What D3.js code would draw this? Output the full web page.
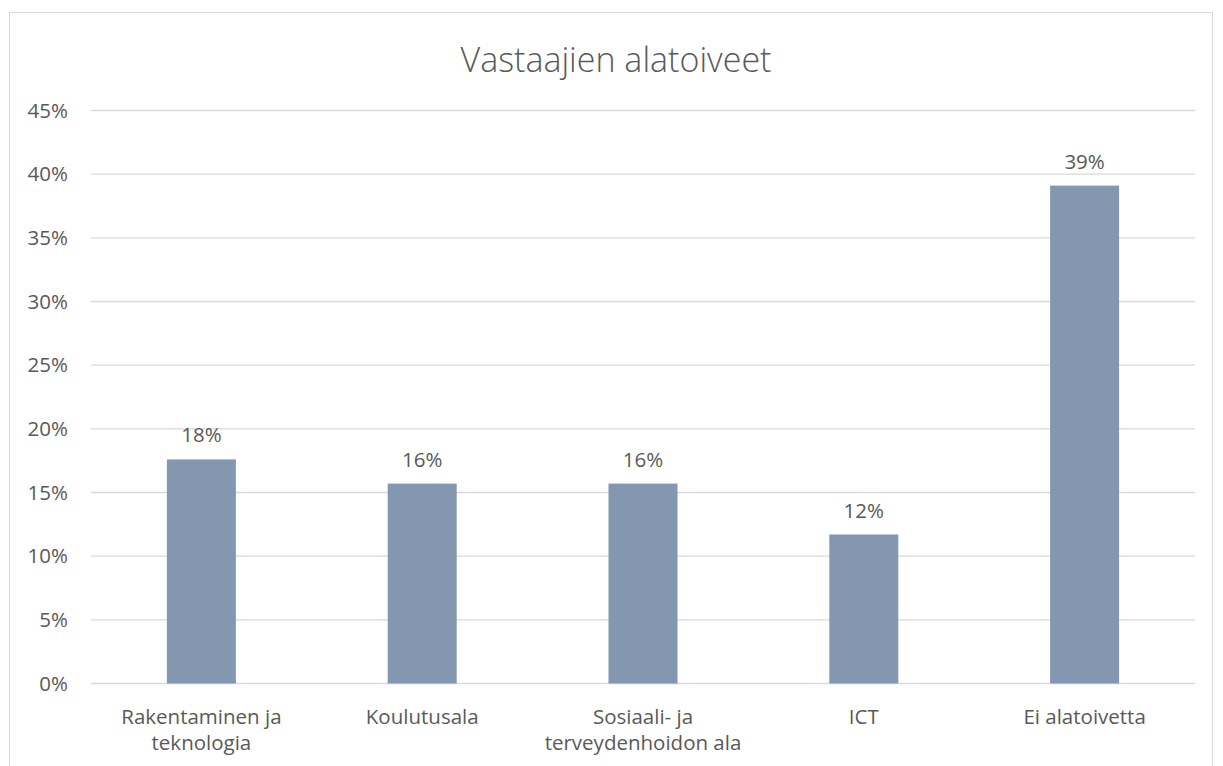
<!DOCTYPE html>
<html>
<head>
<meta charset="utf-8">
<script src="https://cdn.jsdelivr.net/npm/d3@7"></script>
<style>
  html, body { margin: 0; padding: 0; background: #fff; }
  svg text { font-family: "Open Sans", Lato, sans-serif; fill: #595959; }
</style>
</head>
<body>
<div id="vis"></div>
<script>
// data
var categories = [
  ["Rakentaminen ja", "teknologia"],
  ["Koulutusala"],
  ["Sosiaali- ja", "terveydenhoidon ala"],
  ["ICT"],
  ["Ei alatoivetta"]
];
var values = [0.176, 0.157, 0.157, 0.117, 0.391];
var valueLabels = ["18%", "16%", "16%", "12%", "39%"];
var yTicks = [0, 0.05, 0.10, 0.15, 0.20, 0.25, 0.30, 0.35, 0.40, 0.45];
var title = "Vastaajien alatoiveet";

var width = 1223, height = 766;
var plot = {left: 91, right: 1195, top: 110.5, bottom: 683.5};
var fontSize = "20.5px";

var svg = d3.select("#vis").append("svg")
  .attr("width", width).attr("height", height);

// chart frame
svg.append("rect")
  .attr("x", 9.5).attr("y", 12.5)
  .attr("width", 1203).attr("height", 800)
  .attr("fill", "#fff")
  .attr("stroke", "#d9d9d9").attr("stroke-width", 1);

svg.append("text")
  .attr("x", 616).attr("y", 72)
  .attr("text-anchor", "middle")
  .style("font-size", "34px")
  .style("font-weight", 300)
  .text(title);

var idx = d3.range(values.length);

var x = d3.scaleBand()
  .domain(idx)
  .range([plot.left, plot.right])
  .paddingInner(0.6875)
  .paddingOuter(0.6875 / 2);

var y = d3.scaleLinear()
  .domain([0, 0.45])
  .range([plot.bottom, plot.top]);

// gridlines
svg.append("g")
  .selectAll("line")
  .data(yTicks)
  .join("line")
  .attr("x1", plot.left).attr("x2", plot.right)
  .attr("y1", d => y(d)).attr("y2", d => y(d))
  .attr("stroke", "#d9d9d9").attr("stroke-width", 1.3);

// y axis labels
var yAxis = svg.append("g")
  .attr("transform", "translate(" + (plot.left - 23) + ",0)")
  .call(d3.axisLeft(y).tickValues(yTicks).tickFormat(d3.format(".0%")).tickSize(0).tickPadding(0));
yAxis.select(".domain").remove();
yAxis.selectAll("text")
  .style("font-size", fontSize)
  .style("font-family", "'Open Sans', Lato, sans-serif")
  .attr("fill", "#595959");

// bars
svg.append("g")
  .selectAll("rect")
  .data(idx)
  .join("rect")
  .attr("x", i => x(i))
  .attr("y", i => y(values[i]))
  .attr("width", x.bandwidth())
  .attr("height", i => y(0) - y(values[i]))
  .attr("fill", "#8497b0");

// value labels
svg.append("g")
  .selectAll("text")
  .data(idx)
  .join("text")
  .attr("x", i => x(i) + x.bandwidth() / 2)
  .attr("y", i => y(values[i]) - 17)
  .attr("text-anchor", "middle")
  .style("font-size", fontSize)
  .text(i => valueLabels[i]);

// category labels
var cat = svg.append("g")
  .selectAll("text")
  .data(idx)
  .join("text")
  .attr("text-anchor", "middle")
  .attr("transform", i => "translate(" + (x(i) + x.bandwidth() / 2) + "," + (plot.bottom + 40) + ")")
  .style("font-size", fontSize);
cat.selectAll("tspan")
  .data(i => categories[i])
  .join("tspan")
  .attr("x", 0)
  .attr("dy", (d, j) => j === 0 ? 0 : 26)
  .text(d => d);
</script>
</body>
</html>
